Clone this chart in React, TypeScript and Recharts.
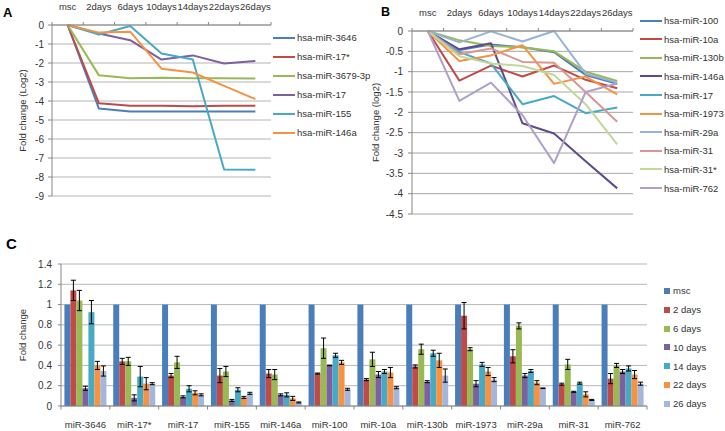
import React from 'react';
import { LineChart, Line, XAxis, YAxis, CartesianGrid, Legend, BarChart, Bar, ErrorBar } from 'recharts';

const FONT = '"Liberation Sans", Arial, sans-serif';
const TEXT = '#333333';
const AXIS = '#868686';

// ---------- Panel A ----------
const timepoints = ['msc', '2days', '6days', '10days', '14days', '22days', '26days'];
const aNames = ['hsa-miR-3646', 'hsa-miR-17*', 'hsa-miR-3679-3p', 'hsa-miR-17', 'hsa-miR-155', 'hsa-miR-146a'];
const aColors = ['#4A7EBB', '#BE4B48', '#98B954', '#7D60A0', '#46AAC5', '#F69240'];
const a3646 = [0, -4.4, -4.55, -4.55, -4.55, -4.55, -4.55];
const a17star = [0, -4.12, -4.25, -4.25, -4.28, -4.25, -4.25];
const a3679 = [0, -2.65, -2.8, -2.78, -2.8, -2.8, -2.82];
const a17 = [0, -0.45, -0.8, -1.82, -1.6, -2.03, -1.9];
const a155 = [0, -0.5, -0.05, -1.5, -1.82, -7.6, -7.62];
const a146a = [0, -0.4, -0.35, -2.3, -2.5, -3.2, -3.9];
const aSeries = [a3646, a17star, a3679, a17, a155, a146a];
const aTicks = [0, -1, -2, -3, -4, -5, -6, -7, -8, -9];

// ---------- Panel B ----------
const bNames = ['hsa-miR-100', 'hsa-miR-10a', 'hsa-miR-130b', 'hsa-miR-146a', 'hsa-miR-17', 'hsa-miR-1973', 'hsa-miR-29a', 'hsa-miR-31', 'hsa-miR-31*', 'hsa-miR-762'];
const bColors = ['#4A7EBB', '#BE4B48', '#98B954', '#5F4A8C', '#46AAC5', '#F69240', '#95B3D7', '#D99694', '#C3D69B', '#AFA0CA'];
const b100 = [0, -0.47, -0.33, -0.4, -0.52, -1.08, -1.3];
const b10a = [0, -1.22, -0.85, -1.12, -0.85, -1.2, -1.41];
const b130b = [0, -0.23, -0.37, -0.4, -0.5, -1.0, -1.23];
const b146a = [0, -0.45, -0.3, -2.27, -2.52, -3.2, -3.87];
const b17 = [0, -0.52, -0.8, -1.8, -1.6, -2.02, -1.88];
const b1973 = [0, -0.74, -0.6, -0.35, -1.3, -1.12, -1.56];
const b29a = [0, -0.28, -0.01, -0.26, 0, -1.05, -1.27];
const b31 = [0, -0.57, -0.43, -0.76, -0.78, -1.5, -2.23];
const b31star = [0, -0.62, -0.8, -0.86, -1.08, -1.8, -2.79];
const b762 = [0, -1.72, -1.27, -2.07, -3.25, -1.5, -1.29];
const bSeries = [b100, b10a, b130b, b146a, b17, b1973, b29a, b31, b31star, b762];
const bTicks = [0, -0.5, -1, -1.5, -2, -2.5, -3, -3.5, -4, -4.5];

// ---------- Panel C ----------
const cCategories = ['miR-3646', 'miR-17*', 'miR-17', 'miR-155', 'miR-146a', 'miR-100', 'miR-10a', 'miR-130b', 'miR-1973', 'miR-29a', 'miR-31', 'miR-762'];
const cNames = ['msc', '2 days', '6 days', '10 days', '14 days', '22 days', '26 days'];
const cColors = ['#4A7EBB', '#BE4B48', '#98B954', '#7D60A0', '#46AAC5', '#F69240', '#A2B6DE'];
const cMsc = [1, 1, 1, 1, 1, 1, 1, 1, 1, 1, 1, 1];
const cD2 = [1.14, 0.44, 0.3, 0.3, 0.32, 0.32, 0.26, 0.39, 0.89, 0.49, 0.215, 0.27];
const cD2err = [0.1, 0.03, 0.02, 0.07, 0.04, 0.005, 0.01, 0.015, 0.13, 0.065, 0.01, 0.05];
const cD6 = [1.04, 0.44, 0.43, 0.34, 0.31, 0.57, 0.46, 0.56, 0.56, 0.79, 0.41, 0.4];
const cD6err = [0.1, 0.04, 0.06, 0.05, 0.05, 0.1, 0.07, 0.05, 0.015, 0.03, 0.05, 0.02];
const cD10 = [0.175, 0.08, 0.09, 0.055, 0.11, 0.4, 0.31, 0.24, 0.22, 0.3, 0.14, 0.34];
const cD10err = [0.02, 0.03, 0.01, 0.01, 0.01, 0.003, 0.03, 0.01, 0.03, 0.02, 0.005, 0.02];
const cD14 = [0.925, 0.29, 0.17, 0.16, 0.11, 0.5, 0.34, 0.52, 0.41, 0.345, 0.225, 0.37];
const cD14err = [0.115, 0.1, 0.03, 0.02, 0.02, 0.02, 0.02, 0.03, 0.02, 0.015, 0.01, 0.025];
const cD22 = [0.4, 0.22, 0.13, 0.085, 0.075, 0.43, 0.33, 0.45, 0.34, 0.23, 0.115, 0.31];
const cD22err = [0.04, 0.06, 0.02, 0.01, 0.02, 0.02, 0.05, 0.07, 0.04, 0.02, 0.025, 0.04];
const cD26 = [0.345, 0.22, 0.11, 0.125, 0.035, 0.165, 0.18, 0.3, 0.26, 0.175, 0.06, 0.22];
const cD26err = [0.05, 0.01, 0.01, 0.01, 0.005, 0.01, 0.01, 0.065, 0.02, 0.003, 0.005, 0.015];
const cSeries = [cMsc, cD2, cD6, cD10, cD14, cD22, cD26];
const cErrors = [null, cD2err, cD6err, cD10err, cD14err, cD22err, cD26err];
const cTicks = [0, 0.2, 0.4, 0.6, 0.8, 1, 1.2, 1.4];

// ---------- rows ----------
const aRows = timepoints.map((t, i) => {
  const r: any = { t };
  aSeries.forEach((s, k) => { r['s' + k] = s[i]; });
  return r;
});
const bRows = timepoints.map((t, i) => {
  const r: any = { t };
  bSeries.forEach((s, k) => { r['s' + k] = s[i]; });
  return r;
});
const cRows = cCategories.map((c, i) => {
  const r: any = { c };
  cSeries.forEach((s, k) => { r['v' + k] = s[i]; });
  cErrors.forEach((e, k) => { if (e) r['e' + k] = e[i]; });
  return r;
});

// layout constants
const A_PLOT_W = 219;
const B_PLOT_W = 221;
const C_PLOT_W = 586;
const A_HALF = A_PLOT_W / timepoints.length / 2;
const B_HALF = B_PLOT_W / timepoints.length / 2;
const C_HALF = C_PLOT_W / cCategories.length / 2;

function CatTick(props: any) {
  const { x, y, payload, index, half, up, n, labelDy, markLen } = props;
  const dir = up ? -1 : 1;
  const last = index === n - 1;
  return (
    <g>
      <line x1={x - half} x2={x - half} y1={y} y2={y + dir * markLen} stroke={AXIS} />
      {last ? <line x1={x + half} x2={x + half} y1={y} y2={y + dir * markLen} stroke={AXIS} /> : null}
      <text x={x} y={y + labelDy} textAnchor="middle" fontSize={9.5} fontFamily={FONT} fill={TEXT}>
        {payload.value}
      </text>
    </g>
  );
}

const yLabel = (text: string, x: number, fallbackCy: number) => (props: any) => {
  const vb = props.viewBox || {};
  let cy = vb.y + vb.height / 2;
  if (!isFinite(cy)) cy = fallbackCy;
  return (
    <text x={x} y={cy} transform={`rotate(-90 ${x} ${cy})`} textAnchor="middle" dominantBaseline="central" fontSize={9.5} fontFamily={FONT} fill={TEXT}>
      {text}
    </text>
  );
};

const lineLegend = (order: string[], rowH: number) => (props: any) => {
  const items = [...(props.payload || [])].sort((p: any, q: any) => order.indexOf(p.value) - order.indexOf(q.value));
  return (
    <div style={{ fontFamily: FONT, fontSize: 9.5, color: TEXT }}>
      {items.map((p: any) => (
        <div key={p.value} style={{ height: rowH, display: 'flex', alignItems: 'center', whiteSpace: 'nowrap' }}>
          <span style={{ display: 'inline-block', width: 22, height: 2, background: p.color, marginRight: 2 }} />
          <span>{p.value}</span>
        </div>
      ))}
    </div>
  );
};

const barLegend = (order: string[], rowH: number) => (props: any) => {
  const items = [...(props.payload || [])].sort((p: any, q: any) => order.indexOf(p.value) - order.indexOf(q.value));
  return (
    <div style={{ fontFamily: FONT, fontSize: 9.5, color: TEXT }}>
      {items.map((p: any) => (
        <div key={p.value} style={{ height: rowH, display: 'flex', alignItems: 'center', whiteSpace: 'nowrap' }}>
          <span style={{ display: 'inline-block', width: 6, height: 6, background: p.color, marginRight: 3 }} />
          <span>{p.value}</span>
        </div>
      ))}
    </div>
  );
};

const panelLabel = (left: number, top: number, size: number): React.CSSProperties => ({
  position: 'absolute', left, top, fontSize: size, lineHeight: 1, fontWeight: 'bold', fontFamily: FONT, color: '#000',
});

export default function App() {
  return (
    <div style={{ position: 'absolute', left: 0, top: 0, width: 725, height: 431, background: '#fff', overflow: 'hidden' }}>
      <div style={{ position: 'absolute', left: 0, top: 0 }}>
        <LineChart width={380} height={210} data={aRows} margin={{ top: 0, right: 109, bottom: 14, left: 0 }}>
          <CartesianGrid vertical={false} stroke="#B4B4B4" />
          <XAxis dataKey="t" orientation="top" height={25} interval={0} padding={{ left: A_HALF, right: A_HALF }}
            axisLine={{ stroke: AXIS }} tickLine={false} tickSize={0} tickMargin={0}
            tick={<CatTick half={A_HALF} up n={timepoints.length} labelDy={-15} markLen={3} />} />
          <YAxis type="number" domain={[-9, 0]} ticks={aTicks} interval={0} width={52} tickSize={4} tickMargin={4}
            axisLine={{ stroke: AXIS }} tickLine={{ stroke: AXIS }} tick={{ fontSize: 10, fill: TEXT, fontFamily: FONT }}
            label={{ content: yLabel('Fold change (Log2)', 22, 110) }} />
          {aNames.map((name, i) => (
            <Line key={name} type="linear" dataKey={'s' + i} name={name} stroke={aColors[i]} strokeWidth={2}
              strokeLinejoin="round" dot={false} activeDot={false} isAnimationActive={false} />
          ))}
          <Legend layout="vertical" align="center" verticalAlign="middle" wrapperStyle={{ left: 273, top: 28 }}
            content={lineLegend(aNames, 19)} />
        </LineChart>
      </div>

      <div style={{ position: 'absolute', left: 370, top: 0 }}>
        <LineChart width={355} height={225} data={bRows} margin={{ top: 0, right: 92, bottom: 11, left: 0 }}>
          <CartesianGrid vertical={false} stroke="#A6A6A6" />
          <XAxis dataKey="t" orientation="top" height={31} interval={0} padding={{ left: B_HALF, right: B_HALF }}
            axisLine={{ stroke: AXIS }} tickLine={false} tickSize={0} tickMargin={0}
            tick={<CatTick half={B_HALF} up n={timepoints.length} labelDy={-15} markLen={3} />} />
          <YAxis type="number" domain={[-4.5, 0]} ticks={bTicks} interval={0} width={42} tickSize={4} tickMargin={5}
            axisLine={{ stroke: AXIS }} tickLine={{ stroke: AXIS }} tick={{ fontSize: 10, fill: TEXT, fontFamily: FONT }}
            label={{ content: yLabel('Fold change (log2)', 5, 122) }} />
          {bNames.map((name, i) => (
            <Line key={name} type="linear" dataKey={'s' + i} name={name} stroke={bColors[i]} strokeWidth={2}
              strokeLinejoin="round" dot={false} activeDot={false} isAnimationActive={false} />
          ))}
          <Legend layout="vertical" align="center" verticalAlign="middle" wrapperStyle={{ left: 270, top: 11.4 }}
            content={lineLegend(bNames, 18.6)} />
        </LineChart>
      </div>

      <div style={{ position: 'absolute', left: 0, top: 220 }}>
        <BarChart width={725} height={211} data={cRows} margin={{ top: 44, right: 78, bottom: 0, left: 0 }}
          barCategoryGap={3.4} barGap={0}>
          <CartesianGrid vertical={false} stroke="#B8B8B8" />
          <XAxis dataKey="c" height={25} interval={0} axisLine={{ stroke: AXIS }} tickLine={false} tickSize={0} tickMargin={0}
            tick={<CatTick half={C_HALF} n={cCategories.length} labelDy={22} markLen={3.5} />} />
          <YAxis type="number" domain={[0, 1.4]} ticks={cTicks} interval={0} width={61} tickSize={3} tickMargin={6}
            axisLine={{ stroke: AXIS }} tickLine={{ stroke: AXIS }} tick={{ fontSize: 10, fill: TEXT, fontFamily: FONT }}
            label={{ content: yLabel('Fold change', 22, 115) }} />
          {cNames.map((name, i) => (
            <Bar key={name} dataKey={'v' + i} name={name} fill={cColors[i]} isAnimationActive={false}>
              {cErrors[i] ? <ErrorBar dataKey={'e' + i} width={2.5} strokeWidth={1} stroke="#000" direction="y" /> : null}
            </Bar>
          ))}
          <Legend layout="vertical" align="center" verticalAlign="middle" wrapperStyle={{ left: 664, top: 61.6 }}
            content={barLegend(cNames, 18.8)} />
        </BarChart>
      </div>

      <div style={panelLabel(3, 5.7, 13)}>A</div>
      <div style={panelLabel(381, 5.8, 12.5)}>B</div>
      <div style={panelLabel(6, 235.6, 15)}>C</div>
    </div>
  );
}
